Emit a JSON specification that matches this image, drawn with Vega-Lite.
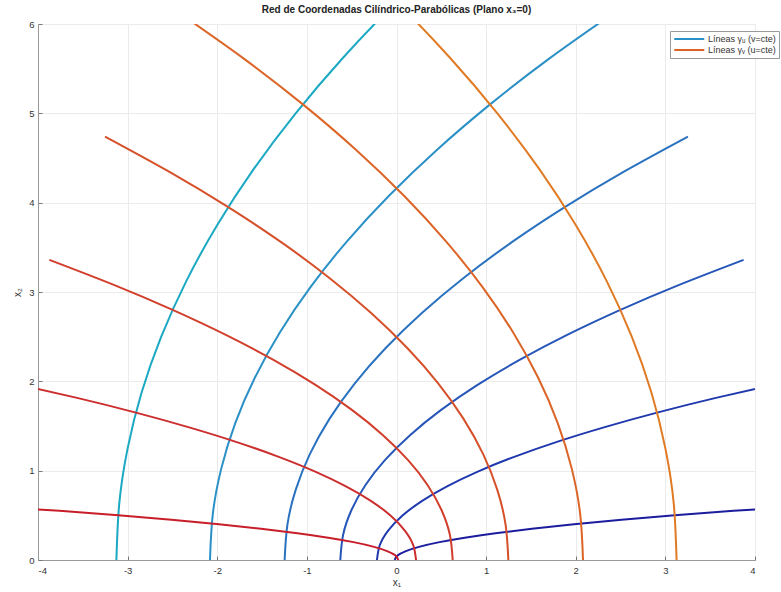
{
  "$schema": "https://vega.github.io/schema/vega-lite/v6.json",
  "autosize": {"type": "none"},
  "width": 717,
  "height": 536,
  "padding": {"left": 38, "top": 24, "right": 26, "bottom": 32},
  "background": "white",
  "title": {"text": "Red de Coordenadas Cilíndrico-Parabólicas (Plano x₃=0)", "fontSize": 10, "fontWeight": "bold", "font": "Liberation Sans", "color": "#222", "offset": 4, "anchor": "middle"},
  "config": {
    "view": {"stroke": "#e6e6e6"},
    "axis": {"labelFont": "Liberation Sans", "titleFont": "Liberation Sans", "labelFontSize": 9.5, "titleFontSize": 10, "labelColor": "#333", "titleColor": "#333", "titleFontWeight": "normal", "gridColor": "#ebebeb", "domainColor": "#999", "tickColor": "#777", "tickSize": -4, "labelExpr": "'' + datum.value"}
  },
  "data": {"values": [
    {"id":"u1","t":0,"x":-0.02,"y":0},{"id":"u1","t":1,"x":0.011,"y":0.05},{"id":"u1","t":2,"x":0.105,"y":0.1},{"id":"u1","t":3,"x":0.261,"y":0.15},{"id":"u1","t":4,"x":0.48,"y":0.2},{"id":"u1","t":5,"x":0.761,"y":0.25},{"id":"u1","t":6,"x":1.105,"y":0.3},{"id":"u1","t":7,"x":1.511,"y":0.35},{"id":"u1","t":8,"x":1.98,"y":0.4},{"id":"u1","t":9,"x":2.511,"y":0.45},{"id":"u1","t":10,"x":3.105,"y":0.5},{"id":"u1","t":11,"x":3.761,"y":0.55},{"id":"u1","t":12,"x":4.48,"y":0.6},
    {"id":"u2","t":0,"x":-0.218,"y":0},{"id":"u2","t":1,"x":-0.187,"y":0.165},{"id":"u2","t":2,"x":-0.093,"y":0.33},{"id":"u2","t":3,"x":0.064,"y":0.495},{"id":"u2","t":4,"x":0.282,"y":0.66},{"id":"u2","t":5,"x":0.564,"y":0.825},{"id":"u2","t":6,"x":0.907,"y":0.99},{"id":"u2","t":7,"x":1.314,"y":1.155},{"id":"u2","t":8,"x":1.782,"y":1.32},{"id":"u2","t":9,"x":2.314,"y":1.485},{"id":"u2","t":10,"x":2.907,"y":1.65},{"id":"u2","t":11,"x":3.564,"y":1.815},{"id":"u2","t":12,"x":4.282,"y":1.98},
    {"id":"u3","t":0,"x":-0.627,"y":0},{"id":"u3","t":1,"x":-0.596,"y":0.28},{"id":"u3","t":2,"x":-0.502,"y":0.56},{"id":"u3","t":3,"x":-0.346,"y":0.84},{"id":"u3","t":4,"x":-0.127,"y":1.12},{"id":"u3","t":5,"x":0.154,"y":1.4},{"id":"u3","t":6,"x":0.498,"y":1.68},{"id":"u3","t":7,"x":0.904,"y":1.96},{"id":"u3","t":8,"x":1.373,"y":2.24},{"id":"u3","t":9,"x":1.904,"y":2.52},{"id":"u3","t":10,"x":2.498,"y":2.8},{"id":"u3","t":11,"x":3.154,"y":3.08},{"id":"u3","t":12,"x":3.873,"y":3.36},
    {"id":"u4","t":0,"x":-1.248,"y":0},{"id":"u4","t":1,"x":-1.217,"y":0.395},{"id":"u4","t":2,"x":-1.123,"y":0.79},{"id":"u4","t":3,"x":-0.967,"y":1.185},{"id":"u4","t":4,"x":-0.748,"y":1.58},{"id":"u4","t":5,"x":-0.467,"y":1.975},{"id":"u4","t":6,"x":-0.123,"y":2.37},{"id":"u4","t":7,"x":0.283,"y":2.765},{"id":"u4","t":8,"x":0.752,"y":3.16},{"id":"u4","t":9,"x":1.283,"y":3.555},{"id":"u4","t":10,"x":1.877,"y":3.95},{"id":"u4","t":11,"x":2.533,"y":4.345},{"id":"u4","t":12,"x":3.252,"y":4.74},
    {"id":"u5","t":0,"x":-2.081,"y":0},{"id":"u5","t":1,"x":-2.05,"y":0.51},{"id":"u5","t":2,"x":-1.956,"y":1.02},{"id":"u5","t":3,"x":-1.8,"y":1.53},{"id":"u5","t":4,"x":-1.581,"y":2.04},{"id":"u5","t":5,"x":-1.3,"y":2.55},{"id":"u5","t":6,"x":-0.956,"y":3.06},{"id":"u5","t":7,"x":-0.55,"y":3.57},{"id":"u5","t":8,"x":-0.081,"y":4.08},{"id":"u5","t":9,"x":0.45,"y":4.59},{"id":"u5","t":10,"x":1.044,"y":5.1},{"id":"u5","t":11,"x":1.7,"y":5.61},{"id":"u5","t":12,"x":2.419,"y":6.12},
    {"id":"u6","t":0,"x":-3.125,"y":0},{"id":"u6","t":1,"x":-3.094,"y":0.625},{"id":"u6","t":2,"x":-3.0,"y":1.25},{"id":"u6","t":3,"x":-2.844,"y":1.875},{"id":"u6","t":4,"x":-2.625,"y":2.5},{"id":"u6","t":5,"x":-2.344,"y":3.125},{"id":"u6","t":6,"x":-2.0,"y":3.75},{"id":"u6","t":7,"x":-1.594,"y":4.375},{"id":"u6","t":8,"x":-1.125,"y":5.0},{"id":"u6","t":9,"x":-0.594,"y":5.625},{"id":"u6","t":10,"x":0.0,"y":6.25},{"id":"u6","t":11,"x":0.656,"y":6.875},{"id":"u6","t":12,"x":1.375,"y":7.5},
    {"id":"v1","t":0,"x":0.02,"y":0},{"id":"v1","t":1,"x":-0.011,"y":0.05},{"id":"v1","t":2,"x":-0.105,"y":0.1},{"id":"v1","t":3,"x":-0.261,"y":0.15},{"id":"v1","t":4,"x":-0.48,"y":0.2},{"id":"v1","t":5,"x":-0.761,"y":0.25},{"id":"v1","t":6,"x":-1.105,"y":0.3},{"id":"v1","t":7,"x":-1.511,"y":0.35},{"id":"v1","t":8,"x":-1.98,"y":0.4},{"id":"v1","t":9,"x":-2.511,"y":0.45},{"id":"v1","t":10,"x":-3.105,"y":0.5},{"id":"v1","t":11,"x":-3.761,"y":0.55},{"id":"v1","t":12,"x":-4.48,"y":0.6},
    {"id":"v2","t":0,"x":0.218,"y":0},{"id":"v2","t":1,"x":0.187,"y":0.165},{"id":"v2","t":2,"x":0.093,"y":0.33},{"id":"v2","t":3,"x":-0.064,"y":0.495},{"id":"v2","t":4,"x":-0.282,"y":0.66},{"id":"v2","t":5,"x":-0.564,"y":0.825},{"id":"v2","t":6,"x":-0.907,"y":0.99},{"id":"v2","t":7,"x":-1.314,"y":1.155},{"id":"v2","t":8,"x":-1.782,"y":1.32},{"id":"v2","t":9,"x":-2.314,"y":1.485},{"id":"v2","t":10,"x":-2.907,"y":1.65},{"id":"v2","t":11,"x":-3.564,"y":1.815},{"id":"v2","t":12,"x":-4.282,"y":1.98},
    {"id":"v3","t":0,"x":0.627,"y":0},{"id":"v3","t":1,"x":0.596,"y":0.28},{"id":"v3","t":2,"x":0.502,"y":0.56},{"id":"v3","t":3,"x":0.346,"y":0.84},{"id":"v3","t":4,"x":0.127,"y":1.12},{"id":"v3","t":5,"x":-0.154,"y":1.4},{"id":"v3","t":6,"x":-0.498,"y":1.68},{"id":"v3","t":7,"x":-0.904,"y":1.96},{"id":"v3","t":8,"x":-1.373,"y":2.24},{"id":"v3","t":9,"x":-1.904,"y":2.52},{"id":"v3","t":10,"x":-2.498,"y":2.8},{"id":"v3","t":11,"x":-3.154,"y":3.08},{"id":"v3","t":12,"x":-3.873,"y":3.36},
    {"id":"v4","t":0,"x":1.248,"y":0},{"id":"v4","t":1,"x":1.217,"y":0.395},{"id":"v4","t":2,"x":1.123,"y":0.79},{"id":"v4","t":3,"x":0.967,"y":1.185},{"id":"v4","t":4,"x":0.748,"y":1.58},{"id":"v4","t":5,"x":0.467,"y":1.975},{"id":"v4","t":6,"x":0.123,"y":2.37},{"id":"v4","t":7,"x":-0.283,"y":2.765},{"id":"v4","t":8,"x":-0.752,"y":3.16},{"id":"v4","t":9,"x":-1.283,"y":3.555},{"id":"v4","t":10,"x":-1.877,"y":3.95},{"id":"v4","t":11,"x":-2.533,"y":4.345},{"id":"v4","t":12,"x":-3.252,"y":4.74},
    {"id":"v5","t":0,"x":2.081,"y":0},{"id":"v5","t":1,"x":2.05,"y":0.51},{"id":"v5","t":2,"x":1.956,"y":1.02},{"id":"v5","t":3,"x":1.8,"y":1.53},{"id":"v5","t":4,"x":1.581,"y":2.04},{"id":"v5","t":5,"x":1.3,"y":2.55},{"id":"v5","t":6,"x":0.956,"y":3.06},{"id":"v5","t":7,"x":0.55,"y":3.57},{"id":"v5","t":8,"x":0.081,"y":4.08},{"id":"v5","t":9,"x":-0.45,"y":4.59},{"id":"v5","t":10,"x":-1.044,"y":5.1},{"id":"v5","t":11,"x":-1.7,"y":5.61},{"id":"v5","t":12,"x":-2.419,"y":6.12},
    {"id":"v6","t":0,"x":3.125,"y":0},{"id":"v6","t":1,"x":3.094,"y":0.625},{"id":"v6","t":2,"x":3.0,"y":1.25},{"id":"v6","t":3,"x":2.844,"y":1.875},{"id":"v6","t":4,"x":2.625,"y":2.5},{"id":"v6","t":5,"x":2.344,"y":3.125},{"id":"v6","t":6,"x":2.0,"y":3.75},{"id":"v6","t":7,"x":1.594,"y":4.375},{"id":"v6","t":8,"x":1.125,"y":5.0},{"id":"v6","t":9,"x":0.594,"y":5.625},{"id":"v6","t":10,"x":0.0,"y":6.25},{"id":"v6","t":11,"x":-0.656,"y":6.875},{"id":"v6","t":12,"x":-1.375,"y":7.5}
  ]},
  "mark": {"type": "line", "clip": true, "strokeWidth": 2, "interpolate": "natural"},
  "encoding": {
    "x": {"field": "x", "type": "quantitative", "scale": {"domain": [-4, 4], "nice": false, "zero": false}, "axis": {"title": "x₁", "values": [-4,-3,-2,-1,0,1,2,3,4], "titlePadding": 3, "labelPadding": 9}},
    "y": {"field": "y", "type": "quantitative", "scale": {"domain": [0, 6], "nice": false}, "axis": {"title": "x₂", "values": [0,1,2,3,4,5,6], "titlePadding": 6, "labelPadding": 8}},
    "order": {"field": "t", "type": "quantitative"},
    "color": {"field": "id", "type": "nominal",
      "scale": {"domain": ["u1","u2","u3","u4","u5","u6","v1","v2","v3","v4","v5","v6"],
                "range": ["#1c1c9e","#2038ae","#2656b8","#2a72c0","#2a90c6","#1aa8c2","#c81e2a","#cc2e2e","#d23e2c","#d6502a","#dc6426","#e07a24"]},
      "legend": {"values": ["u5","v5"], "labelExpr": "datum.label == 'u5' ? 'Líneas γᵤ (v=cte)' : 'Líneas γᵥ (u=cte)'",
        "title": null, "orient": "none", "legendX": 632, "legendY": 7, "symbolType": "M-1,0H7", "symbolSize": 56.25, "symbolStrokeWidth": 2,
        "labelFontSize": 9, "labelFont": "Liberation Sans", "labelColor": "#333", "labelLimit": 300, "rowPadding": 1, "padding": 3,
        "strokeColor": "#999", "fillColor": "white", "labelOffset": 25}
    }
  }
}
